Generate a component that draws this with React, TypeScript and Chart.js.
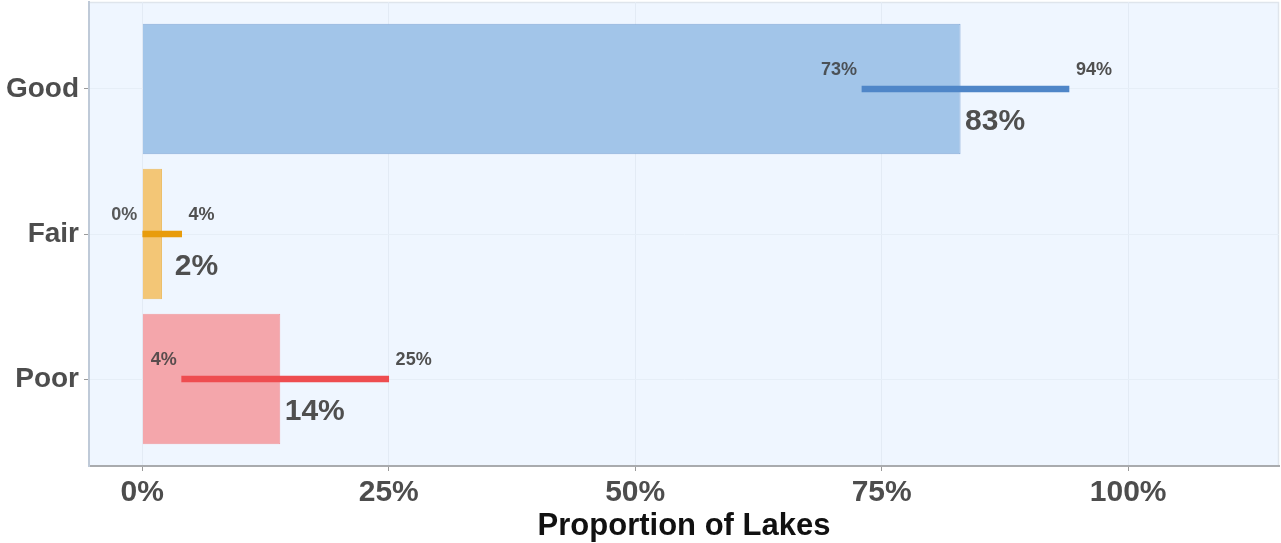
import { useEffect, useRef } from 'react';
import { Chart, registerables } from 'chart.js';

Chart.register(...registerables);

// Lake condition categories and estimated proportions (%) with interval bounds
const categories = ['Good', 'Fair', 'Poor'];
const estimates = [83, 2, 14];
const lowerBounds = [73, 0, 4];
const upperBounds = [94, 4, 25];
const xTickValues = [0, 25, 50, 75, 100];

const barFills = ['#a2c5e9', '#f3c676', '#f4a6ab'];
const barEdges = ['#86abd8', '#ecb95e', '#f1999f'];
const intervalColors = ['#4f86c8', '#e89c0c', '#ee4d50'];

const FONT = '"Liberation Sans", Arial, Helvetica, sans-serif';
const PANEL = '#eff6ff';

const panelPlugin = {
  id: 'panelBackground',
  beforeDraw(chart: any) {
    const { ctx, chartArea: a } = chart;
    ctx.save();
    ctx.fillStyle = PANEL;
    ctx.fillRect(a.left, a.top, a.right - a.left, a.bottom - a.top);
    ctx.strokeStyle = '#dfe5ec';
    ctx.lineWidth = 1.5;
    ctx.beginPath();
    ctx.moveTo(a.left, a.top + 0.5);
    ctx.lineTo(a.right - 0.5, a.top + 0.5);
    ctx.lineTo(a.right - 0.5, a.bottom);
    ctx.stroke();
    ctx.restore();
  },
};

const valueLabelPlugin = {
  id: 'valueLabels',
  afterDatasetsDraw(chart: any) {
    const { ctx } = chart;
    const xs = chart.scales.x;
    const ys = chart.scales.y;
    ctx.save();
    categories.forEach((_, i) => {
      const y = ys.getPixelForValue(i);
      // interval bounds above the line
      ctx.font = `bold 18px ${FONT}`;
      ctx.textBaseline = 'middle';
      ctx.fillStyle = 'rgba(60,60,60,0.85)';
      ctx.textAlign = 'right';
      ctx.fillText(`${lowerBounds[i]}%`, xs.getPixelForValue(lowerBounds[i] - 0.5), y - 19);
      ctx.textAlign = 'left';
      ctx.fillStyle = '#505050';
      ctx.fillText(`${upperBounds[i]}%`, xs.getPixelForValue(upperBounds[i] + 0.7), y - 19);
      // estimate below the line
      ctx.font = `bold 30px ${FONT}`;
      ctx.textAlign = 'center';
      ctx.fillStyle = '#4f4f4f';
      ctx.fillText(`${estimates[i]}%`, xs.getPixelForValue(estimates[i] + 3.5), y + 33);
    });
    ctx.restore();
  },
};

export default function App() {
  const ref = useRef<HTMLCanvasElement>(null);

  useEffect(() => {
    if (!ref.current) return;
    const chart = new Chart(ref.current, {
      type: 'bar',
      data: {
        datasets: [
          {
            label: 'Interval',
            data: categories.map((_, i) => ({ x: [lowerBounds[i], upperBounds[i]], y: i })) as any,
            backgroundColor: intervalColors,
            borderWidth: 0,
            barThickness: 6,
            grouped: false,
            order: 0,
          },
          {
            label: 'Proportion',
            data: categories.map((_, i) => ({ x: estimates[i], y: i })) as any,
            backgroundColor: barFills,
            borderColor: barEdges,
            borderWidth: 1,
            categoryPercentage: 1,
            barPercentage: 0.9,
            grouped: false,
            order: 1,
          },
        ],
      },
      options: {
        indexAxis: 'y',
        animation: false,
        responsive: false,
        maintainAspectRatio: false,
        layout: { padding: { top: 2, right: 2, left: 0, bottom: 0 } },
        plugins: {
          legend: { display: false },
          tooltip: { enabled: false },
        },
        scales: {
          x: {
            type: 'linear',
            min: -5.4,
            max: 115.3,
            afterBuildTicks: (s: any) => {
              s.ticks = xTickValues.map((v) => ({ value: v }));
            },
            afterFit: (s: any) => {
              s.height = 77;
              s.paddingLeft = 0;
              s.paddingRight = 0;
            },
            ticks: {
              callback: (v: any) => `${v}%`,
              font: { family: FONT, size: 30, weight: 'bold' },
              color: '#4d4d4d',
              padding: 4,
              maxRotation: 0,
            },
            grid: {
              color: '#e3ebf5',
              tickColor: '#9a9a9a',
              tickLength: 5,
            },
            border: { display: true, color: '#a9abae', width: 2 },
            title: {
              display: true,
              text: 'Proportion of Lakes',
              font: { family: FONT, size: 31, weight: 'bold' },
              color: '#111111',
              padding: { top: 0, bottom: -2 },
            },
          },
          y: {
            type: 'linear',
            reverse: true,
            offset: false,
            min: -0.6,
            max: 2.6,
            afterBuildTicks: (s: any) => {
              s.ticks = categories.map((_, i) => ({ value: i }));
            },
            afterFit: (s: any) => {
              s.width = 89;
              s.paddingTop = 0;
              s.paddingBottom = 0;
            },
            ticks: {
              callback: (v: any) => categories[v as number] ?? '',
              font: { family: FONT, size: 28, weight: 'bold' },
              color: '#4d4d4d',
              padding: 5,
            },
            grid: {
              offset: false,
              color: '#e6eef7',
              tickColor: '#9a9a9a',
              tickLength: 5,
            },
            border: { display: true, color: '#bfcad8', width: 2 },
          },
        },
      },
      plugins: [panelPlugin, valueLabelPlugin],
    });
    return () => chart.destroy();
  }, []);

  return (
    <div style={{ position: 'absolute', left: 0, top: 0, width: 1281, height: 543, background: '#ffffff' }}>
      <canvas ref={ref} width={1281} height={543} />
    </div>
  );
}
